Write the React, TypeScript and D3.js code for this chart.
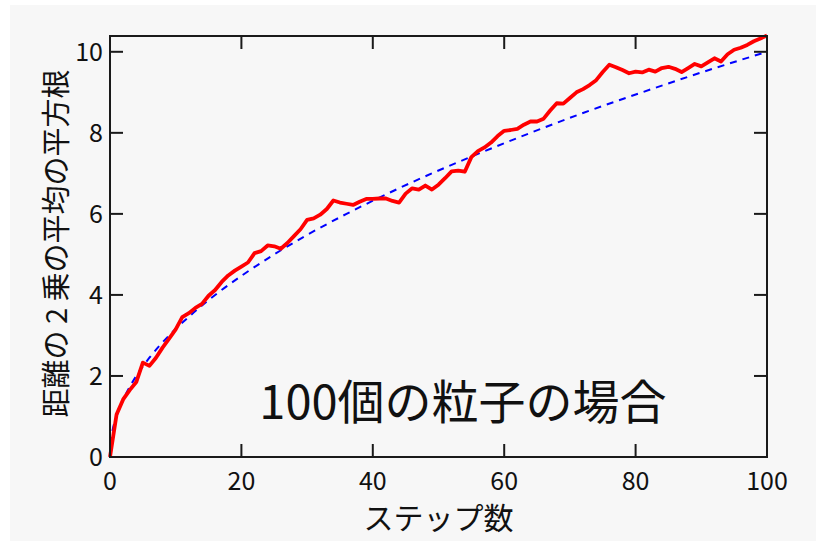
import React, { useRef, useEffect } from "react";
import * as d3 from "d3";

// random walk: root mean square distance, 100 particles
const steps = d3.range(0, 101);
const rmsDistance = [
  0, 1.05, 1.42, 1.65, 1.85, 2.33, 2.25, 2.45, 2.7, 2.92,
  3.15, 3.45, 3.55, 3.68, 3.78, 3.98, 4.12, 4.32, 4.48, 4.6,
  4.7, 4.8, 5.03, 5.08, 5.22, 5.2, 5.14, 5.28, 5.45, 5.62,
  5.85, 5.89, 5.98, 6.12, 6.33, 6.28, 6.25, 6.22, 6.3, 6.37,
  6.37, 6.38, 6.38, 6.32, 6.28, 6.5, 6.63, 6.6, 6.7, 6.6,
  6.72, 6.88, 7.05, 7.07, 7.04, 7.4, 7.55, 7.64, 7.76, 7.92,
  8.05, 8.07, 8.1, 8.2, 8.28, 8.28, 8.35, 8.55, 8.73, 8.72,
  8.86, 9.0, 9.08, 9.18, 9.3, 9.5, 9.68, 9.62, 9.55, 9.47,
  9.51, 9.49, 9.56, 9.51, 9.6, 9.63, 9.58, 9.5, 9.6, 9.7,
  9.64, 9.74, 9.84, 9.76, 9.94, 10.05, 10.1, 10.17, 10.26, 10.33,
  10.4,
];

// theory curve (dashed)
const theorySteps = [0, 0.25, 1, 2, 3, 4, 6, 9, 12, 16, 20, 25, 30, 36, 42, 49, 56, 64, 72, 81, 90, 100];
const theoryValues = [0, 0.5, 1, 1.41, 1.73, 2, 2.45, 3, 3.46, 4, 4.47, 5, 5.48, 6, 6.48, 7, 7.48, 8, 8.49, 9, 9.49, 10];

const xTicks = [0, 20, 40, 60, 80, 100];
const yTicks = [0, 2, 4, 6, 8, 10];

const xLabel = "ステップ数";
const yLabel = "距離の 2 乗の平均の平方根";
const note = "100個の粒子の場合";

const App = () => {
  const svgRef = useRef<SVGSVGElement>(null);

  useEffect(() => {
    const width = 816;
    const height = 541;
    const font = "'Noto Sans CJK JP', 'Noto Sans', sans-serif";
    const tickLen = 13;

    const svg = d3.select(svgRef.current);
    svg.selectAll("*").remove();

    svg.append("rect")
      .attr("x", 10).attr("y", 5)
      .attr("width", width - 10).attr("height", height - 5)
      .attr("fill", "#f7f7f7");

    const left = 110, right = 767, top = 36, bottom = 457;

    const xScale = d3.scaleLinear().domain([0, 100]).range([left, right]);
    const yScale = d3.scaleLinear().domain([0, 10.39]).range([bottom, top]);

    const plot = svg.append("g");

    // dashed theory line
    const theoryLine = d3.line<number>()
      .x((d, i) => xScale(theorySteps[i]))
      .y(d => yScale(d))
      .curve(d3.curveMonotoneX);
    plot.append("path")
      .attr("d", theoryLine(theoryValues))
      .attr("fill", "none")
      .attr("stroke", "#0000ff")
      .attr("stroke-width", 2)
      .attr("stroke-dasharray", "7,6");

    // measured line
    const dataLine = d3.line<number>()
      .x((d, i) => xScale(steps[i]))
      .y(d => yScale(d));
    plot.append("path")
      .attr("d", dataLine(rmsDistance))
      .attr("fill", "none")
      .attr("stroke", "#ff0000")
      .attr("stroke-width", 3.8)
      .attr("stroke-linejoin", "round");

    // box
    const axes = svg.append("g").attr("stroke", "#1a1a1a").attr("stroke-width", 2);
    axes.append("rect")
      .attr("x", left).attr("y", top)
      .attr("width", right - left).attr("height", bottom - top)
      .attr("fill", "none");

    // inward ticks on all four sides
    xTicks.forEach(t => {
      const x = xScale(t);
      axes.append("line").attr("x1", x).attr("x2", x).attr("y1", bottom).attr("y2", bottom - tickLen);
      axes.append("line").attr("x1", x).attr("x2", x).attr("y1", top).attr("y2", top + tickLen);
    });
    yTicks.forEach(t => {
      const y = yScale(t);
      axes.append("line").attr("x1", left).attr("x2", left + tickLen).attr("y1", y).attr("y2", y);
      axes.append("line").attr("x1", right).attr("x2", right - tickLen).attr("y1", y).attr("y2", y);
    });

    const labels = svg.append("g").attr("font-family", font).attr("fill", "#111");

    labels.selectAll(".xt")
      .data(xTicks)
      .enter()
      .append("text")
      .attr("x", d => xScale(d))
      .attr("y", bottom + 33)
      .attr("text-anchor", "middle")
      .attr("font-size", 25)
      .text(d => d);

    labels.selectAll(".yt")
      .data(yTicks)
      .enter()
      .append("text")
      .attr("x", left - 7)
      .attr("y", d => yScale(d) + 9)
      .attr("text-anchor", "end")
      .attr("font-size", 25)
      .text(d => d);

    labels.append("text")
      .attr("x", (left + right) / 2)
      .attr("y", 529)
      .attr("text-anchor", "middle")
      .attr("font-size", 30)
      .text(xLabel);

    labels.append("text")
      .attr("transform", "translate(67," + ((top + bottom) / 2 - 3) + ") rotate(-90)")
      .attr("text-anchor", "middle")
      .attr("font-size", 29)
      .text(yLabel);

    labels.append("text")
      .attr("x", 463)
      .attr("y", 419)
      .attr("text-anchor", "middle")
      .attr("font-size", 47)
      .text(note);
  }, []);

  return (
    <svg ref={svgRef} width={816} height={541} style={{ position: "absolute", left: 0, top: 0 }}></svg>
  );
};

export default App;
